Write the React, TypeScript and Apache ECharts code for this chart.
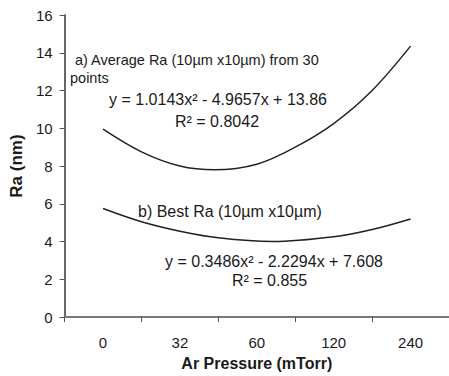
import React, { useEffect, useRef } from "react";
import * as echarts from "echarts";

const categories = ["0", "32", "60", "120", "240"];
// positions along the category axis (1 = first category) at which each curve was read
const averagePositions = [1, 1.5, 2, 2.45, 3, 3.5, 4, 4.5, 5];
const averageRa = [9.95, 8.75, 8.0, 7.8, 8.1, 9.0, 10.25, 12.0, 14.35];
const bestPositions = [1, 1.5, 2, 2.5, 3.2, 4, 4.5, 5];
const bestRa = [5.75, 5.05, 4.55, 4.2, 4.0, 4.25, 4.64, 5.2];
const yTicks = { min: 0, max: 16, interval: 2 };

const FONT = "'Liberation Sans', Arial, Helvetica, sans-serif";

export default function App() {
  const ref = useRef<HTMLDivElement>(null);
  useEffect(() => {
    if (!ref.current) return;
    const chart = echarts.init(ref.current, null, { renderer: "svg" });
    const txt = (x: number, y: number, text: string, size: number) => ({
      type: "text",
      left: x,
      top: y,
      style: { text, fontSize: size, fontFamily: FONT, fill: "#1a1a1a" },
    });
    chart.setOption({
      animation: false,
      backgroundColor: "#ffffff",
      grid: { left: 55, right: 0, top: 15, bottom: 56 },
      xAxis: [
        {
          type: "category",
          data: categories,
          boundaryGap: true,
          name: "Ar Pressure (mTorr)",
          nameLocation: "middle",
          nameGap: 35,
          nameTextStyle: { fontSize: 16, fontWeight: "bold", fontFamily: FONT, color: "#1a1a1a" },
          axisLine: { lineStyle: { color: "#777", width: 2 } },
          axisTick: { show: true, inside: false, length: 5, lineStyle: { color: "#555" } },
          axisLabel: { fontSize: 15, fontFamily: FONT, color: "#1a1a1a", margin: 18 },
          splitLine: { show: false },
        },
        {
          type: "value",
          min: 0.5,
          max: 5.5,
          show: false,
          splitLine: { show: false },
        },
      ],
      yAxis: {
        type: "value",
        min: yTicks.min,
        max: yTicks.max,
        interval: yTicks.interval,
        name: "Ra (nm)",
        nameLocation: "middle",
        nameGap: 38,
        nameRotate: 90,
        nameTextStyle: { fontSize: 17, fontWeight: "bold", fontFamily: FONT, color: "#1a1a1a" },
        axisLine: { show: true, lineStyle: { color: "#666", width: 2 } },
        axisTick: { show: true, inside: false, length: 5, lineStyle: { color: "#555" } },
        axisLabel: { fontSize: 15, fontFamily: FONT, color: "#1a1a1a", margin: 12 },
        splitLine: { show: false },
      },
      series: [
        {
          type: "line",
          xAxisIndex: 1,
          smooth: 0.35,
          symbol: "none",
          lineStyle: { color: "#222", width: 1.5 },
          data: averagePositions.map((x, i) => [x, averageRa[i]]),
        },
        {
          type: "line",
          xAxisIndex: 1,
          smooth: 0.35,
          symbol: "none",
          lineStyle: { color: "#222", width: 1.5 },
          data: bestPositions.map((x, i) => [x, bestRa[i]]),
        },
      ],
      graphic: [
        txt(75, 52, "a) Average Ra (10µm x10µm) from 30", 14.5),
        txt(70, 70, "points", 14.5),
        txt(109, 91, "y = 1.0143x² - 4.9657x + 13.86", 16),
        txt(175, 113, "R² = 0.8042", 16),
        txt(138, 203, "b) Best Ra (10µm x10µm)", 16),
        txt(165, 253, "y = 0.3486x² - 2.2294x + 7.608", 16),
        txt(232, 272, "R² = 0.855", 16),
      ],
    });
    return () => chart.dispose();
  }, []);
  return (
    <div
      ref={ref}
      style={{ position: "fixed", left: 0, top: 0, width: 449, height: 376 }}
    />
  );
}
